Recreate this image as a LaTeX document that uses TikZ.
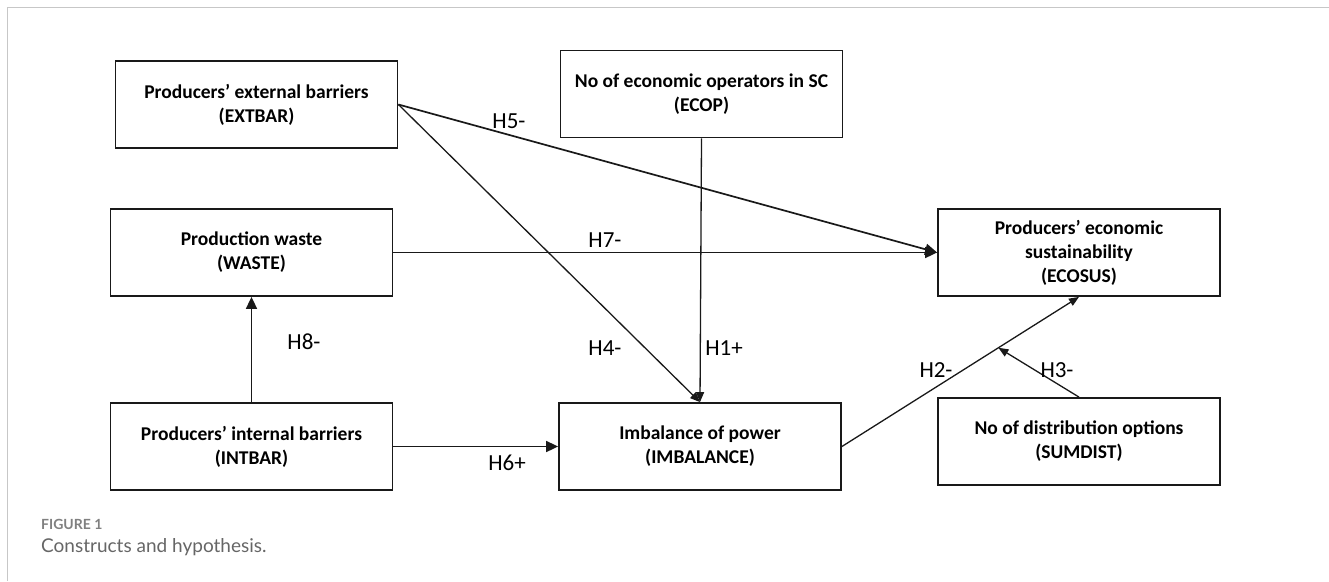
\documentclass[tikz,border=0pt]{standalone}
\usepackage{fontspec}
\setmainfont{Carlito}
\newfontfamily\capfont{Lato}
\usetikzlibrary{arrows.meta,calc}
\begin{document}
\begin{tikzpicture}[x=1pt,y=-1pt,
  box/.style={draw=black!90,line width=1.8pt,minimum width=282pt,minimum height=87pt,inner sep=0pt,align=center,font=\fontsize{19.5}{24}\selectfont\bfseries,text=black},
  conn/.style={draw=black!90,line width=1.7pt,-{Triangle[length=12pt,width=11pt]}},
  thin/.style={draw=black!90,line width=1.3pt,-{Triangle[length=10pt,width=8pt]}},
  lbl/.style={font=\fontsize{23}{26}\selectfont,text=black,inner sep=0pt}]
\useasboundingbox (0,0) rectangle (1329,581);
\fill[white] (0,0) rectangle (1329,581);
\draw[black!22,line width=1pt] (7,581) -- (7,7) -- (1329,7);
\node[box] (ext) at (256.5,104.5) {Producers’ external barriers\\(EXTBAR)};
\node[box] (waste) at (251.5,252.5) {Production waste\\(WASTE)};
\node[box] (ecop) at (701.5,94) {No of economic operators in SC\\(ECOP)};
\node[box] (ecosus) at (1079,252.5) {Producers’ economic\\sustainability\\(ECOSUS)};
\node[box] (intbar) at (251.5,446.5) {Producers’ internal barriers\\(INTBAR)};
\node[box] (imb) at (700,446.5) {Imbalance of power\\(IMBALANCE)};
\node[box] (sumdist) at (1079,441.5) {No of distribution options\\(SUMDIST)};
\coordinate (m) at ($(imb.east)!0.66!(ecosus.south)$);
\draw[conn] (ext.east) -- (ecosus.west);
\draw[conn] (waste.east) -- (ecosus.west);
\draw[thin] (ext.east) -- (imb.north);
\draw[thin] (ecop.south) -- (imb.north);
\draw[conn] (intbar.north) -- (waste.south);
\draw[conn] (intbar.east) -- (imb.west);
\draw[thin] (imb.east) -- (ecosus.south);
\draw[thin] (sumdist.north) -- (m);
\node[lbl] (h5) at (509,121) {H5-};
\node[lbl] (h7) at (605,240) {H7-};
\node[lbl] (h8) at (304,342) {H8-};
\node[lbl] (h4) at (605,348) {H4-};
\node[lbl] (h1) at (724,348) {H1+};
\node[lbl] (h6) at (507,463) {H6+};
\node[lbl] (h2) at (936,370) {H2-};
\node[lbl] (h3) at (1057,370) {H3-};
\node[anchor=west,inner sep=0pt,text=black!50,font=\capfont\fontsize{14}{16}\selectfont\bfseries] (fig) at (41,524) {FIGURE 1};
\node[anchor=west,inner sep=0pt,text=black!60,font=\capfont\fontsize{19}{22}\selectfont] (cap) at (41,547) {Constructs and hypothesis.};
\end{tikzpicture}
\end{document}
